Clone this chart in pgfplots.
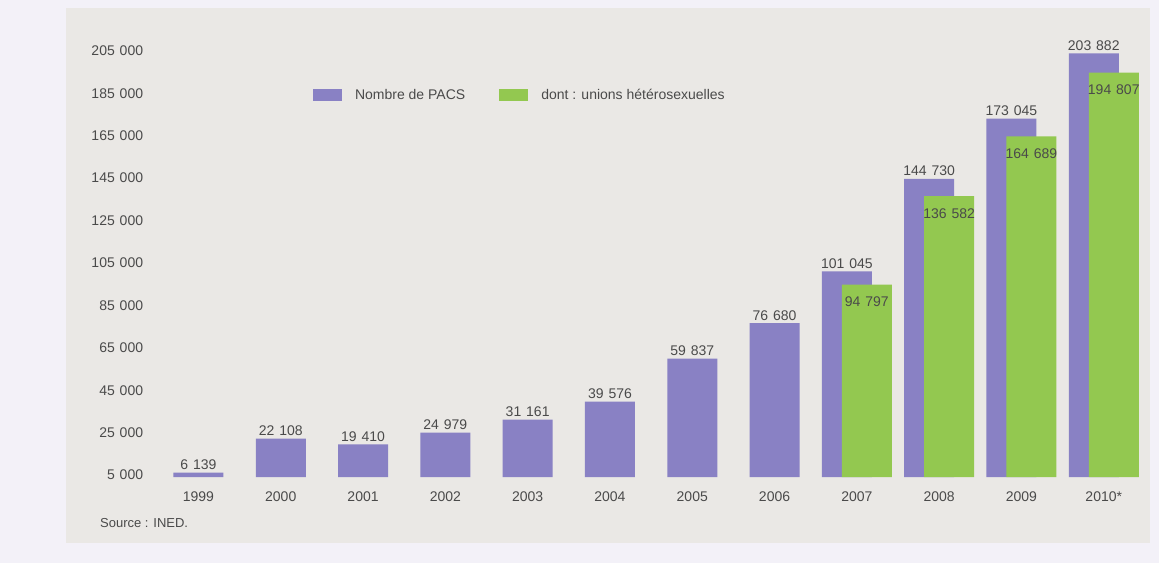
\documentclass[border=0pt]{standalone}
\usepackage{fontspec}
\setmainfont{Liberation Sans}
\usepackage{pgfplots}
\pgfplotsset{compat=1.18}
\definecolor{pacs}{HTML}{8981C4}
\definecolor{hetero}{HTML}{93C850}
\definecolor{panel}{HTML}{EAE8E5}
\definecolor{outer}{HTML}{F3F1F8}
\definecolor{txt}{HTML}{4A4A4A}
\newcommand\ts{\hspace{0.35em}}
\newcommand\ff{\fontsize{14}{16}\selectfont}
\begin{document}
\ff
\begin{tikzpicture}
\fill[outer] (0,0) rectangle (1159pt,563pt);
\fill[panel] (66pt,20pt) rectangle (1150pt,555pt);
\begin{axis}[
  at={(157.3pt,85.9pt)}, anchor=south west,
  scale only axis, width=987.6pt, height=455.8pt,
  xmin=-0.5, xmax=11.5, ymin=4000, ymax=219000,
  scaled y ticks=false,
  axis line style={draw=none}, tick style={draw=none},
  ybar, bar width=50pt,
  xtick={0,1,2,3,4,5,6,7,8,9,10,11},
  xticklabels={1999,2000,2001,2002,2003,2004,2005,2006,2007,2008,2009,2010*},
  ytick={5000,25000,45000,65000,85000,105000,125000,145000,165000,185000,205000},
  yticklabels={5\ts000,25\ts000,45\ts000,65\ts000,85\ts000,105\ts000,125\ts000,145\ts000,165\ts000,185\ts000,205\ts000},
  xticklabel style={anchor=north, inner sep=0pt, yshift=-10pt, text=txt, font=\ff},
  yticklabel style={anchor=east, inner sep=0pt, xshift=-14pt, text=txt, font=\ff},
  point meta=explicit symbolic,
  legend columns=2,
  legend image code/.code={\fill[#1] (0pt,-6pt) rectangle (29pt,6pt);},
  legend style={at={(axis description cs:0.1577,0.838)}, anchor=west, draw=none, fill=none,
    inner sep=0pt, outer sep=0pt, font=\ff, text=txt,
    nodes={inner sep=0pt},
    /tikz/every odd column/.append style={column sep=13pt},
    /tikz/every even column/.append style={column sep=34pt}},
]
\addplot[fill=pacs, draw=none, bar shift=0pt,
  nodes near coords, every node near coord/.append style={text=txt, inner sep=2.5pt, font=\ff}]
  coordinates {(0,6139) [6\ts139] (1,22108) [22\ts108] (2,19410) [19\ts410] (3,24979) [24\ts979]
               (4,31161) [31\ts161] (5,39576) [39\ts576] (6,59837) [59\ts837] (7,76680) [76\ts680]};
\addlegendentry{Nombre de PACS}
\addlegendimage{fill=hetero, draw=none}
\addlegendentry{dont : unions hétérosexuelles}
\addplot[fill=pacs, draw=none, bar shift=-10pt,
  nodes near coords, every node near coord/.append style={text=txt, inner sep=2.5pt, font=\ff}]
  coordinates {(8,101045) [101\ts045] (9,144730) [144\ts730] (10,173045) [173\ts045] (11,203882) [203\ts882]};
\addplot[fill=hetero, draw=none, bar shift=10pt,
  nodes near coords, every node near coord/.append style={text=txt, anchor=north, yshift=-12pt, inner sep=0pt, font=\ff}]
  coordinates {(8,94797) [94\ts797] (9,136582) [136\ts582] (10,164689) [164\ts689] (11,194807) [194\ts807]};
\end{axis}
\node[anchor=west, inner sep=0pt, text=txt, font=\fontsize{13}{16}\selectfont] at (100pt,40pt) {Source : INED.};
\end{tikzpicture}
\end{document}
